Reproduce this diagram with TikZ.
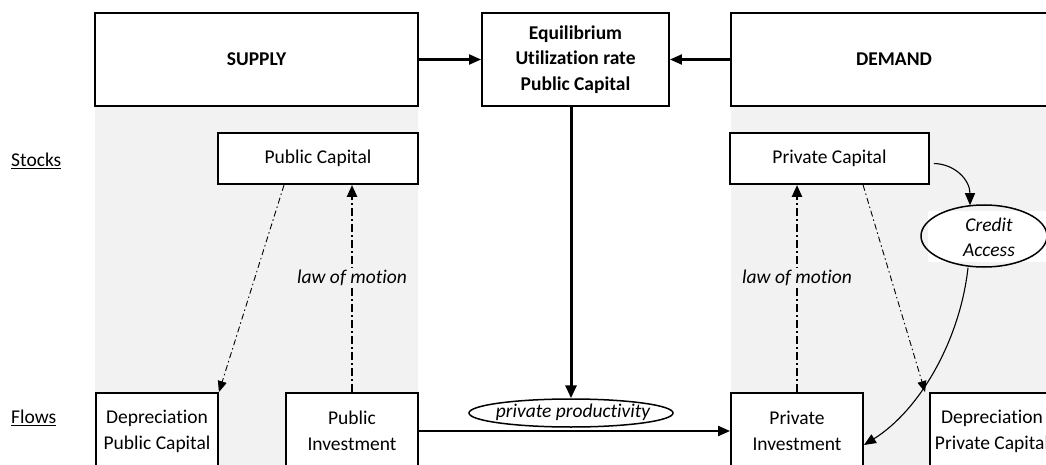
\documentclass[tikz,border=0pt]{standalone}
\usepackage{fontspec}
\setmainfont{Carlito}[RawFeature={-liga;-clig;-calt;-dlig}]
\usetikzlibrary{arrows.meta,shapes.geometric}
\definecolor{bg}{HTML}{F2F2F2}
\begin{document}
\begin{tikzpicture}[x=1pt,y=-1pt,
  box/.style={draw, line width=1.9pt, fill=white, inner sep=0pt, align=center, font=\fontsize{19.5}{26}\selectfont},
  bbox/.style={box, font=\fontsize{19.5}{25.5}\selectfont\bfseries},
  oval/.style={draw, ellipse, line width=1.5pt, inner sep=0pt},
  itext/.style={inner sep=0pt, align=center, font=\fontsize{19.5}{25}\selectfont\itshape},
  side/.style={inner sep=0pt, anchor=west, font=\fontsize{19.5}{24}\selectfont},
  arr/.style={line width=2.2pt, -{Triangle[length=12pt,width=10pt]}},
  bigarr/.style={line width=3pt, -{Triangle[length=13pt,width=11pt]}},
  lom/.style={line width=2.4pt, dash pattern=on 8pt off 3pt on 2pt off 3pt, -{Triangle[length=12pt,width=10pt]}},
  dep/.style={line width=0.9pt, dash pattern=on 6pt off 3pt on 1.5pt off 3pt, -{Triangle[length=11pt,width=9pt]}},
  thinarr/.style={line width=1.1pt, -{Triangle[length=12pt,width=10pt]}},
  lomlabel/.style={itext, fill=bg, inner sep=2pt}
]
\useasboundingbox (0,0) rectangle (1046,465);
\clip (0,0) rectangle (1046,465);

% gray backgrounds
\fill[bg] (95,106) rectangle (418,470);
\fill[bg] (731,106) rectangle (1050,470);

% top boxes
\node[bbox, minimum width=323pt, minimum height=93pt] (supply) at (256.5,59.5) {SUPPLY};
\node[bbox, minimum width=187pt, minimum height=93pt] (eq) at (575.5,59.5) {Equilibrium\\Utilizat\kern0pt ion rate\\Public Capital};
\node[bbox, minimum width=326pt, minimum height=93pt] (demand) at (894,59.5) {DEMAND};

% stocks
\node[box, minimum width=200pt, minimum height=51pt] (pubcap) at (318,158.5) {Public Capital};
\node[box, minimum width=199pt, minimum height=51pt] (privcap) at (829.5,158.5) {Private Capital};

% flows
\node[box, minimum width=122pt, minimum height=76pt] (deppub) at (157,431) {Depreciation\\Public Capital};
\node[box, minimum width=132pt, minimum height=76pt] (pubinv) at (352,431) {Public\\Investment};
\node[box, minimum width=132pt, minimum height=76pt] (privinv) at (797,431) {Private\\Investment};
\node[box, minimum width=124pt, minimum height=76pt] (deppriv) at (992,431) {Depreciation\\Private Capital};

% side labels
\node[side] (stocks) at (11,161) {\underline{Stocks}};
\node[side] (flows) at (11,418) {\underline{Flows}};

% ellipses
\node[oval, minimum width=204pt, minimum height=28pt] (pp) at (571,413) {};
\node[itext] (pptext) at (573,412) {private productivity};
\fill[white] (928,211) rectangle (1046,262);
\node[oval, minimum width=126pt, minimum height=62pt] (credit) at (984,236) {};
\node[itext] (credittext) at (989,237) {Credit\\Access};

% connectors
\draw[arr] (supply.east) -- (eq.west);
\draw[arr] (demand.west) -- (eq.east);
\draw[bigarr] (eq.south -| pp.north) -- (pp.north);
\draw[arr] (pubinv.east) -- (privinv.west);

\draw[lom] (pubinv.north) -- (pubcap.south -| pubinv.north)
  node[lomlabel, pos=0.55] {law of mot\kern0pt ion};
\draw[lom] (privinv.north) -- (privcap.south -| privinv.north)
  node[lomlabel, pos=0.55] {law of mot\kern0pt ion};

\draw[dep] ([xshift=67pt]pubcap.south west) -- (deppub.north east);
\draw[dep] ([xshift=134pt]privcap.south west) -- ([xshift=-4pt]deppriv.north west);

\coordinate (cs) at ([xshift=4pt,yshift=-5pt]privcap.east);
\coordinate (ce) at ([xshift=-14pt,yshift=-1pt]credit.north);
\draw[thinarr] (cs) .. controls (955,164) and (970,180) .. (ce);
\coordinate (cb) at ([xshift=-16pt]credit.south);
\coordinate (pe) at ([yshift=-14pt]privinv.east);
\draw[thinarr] (cb) .. controls (960,340) and (920,410) .. (pe);
\end{tikzpicture}
\end{document}
